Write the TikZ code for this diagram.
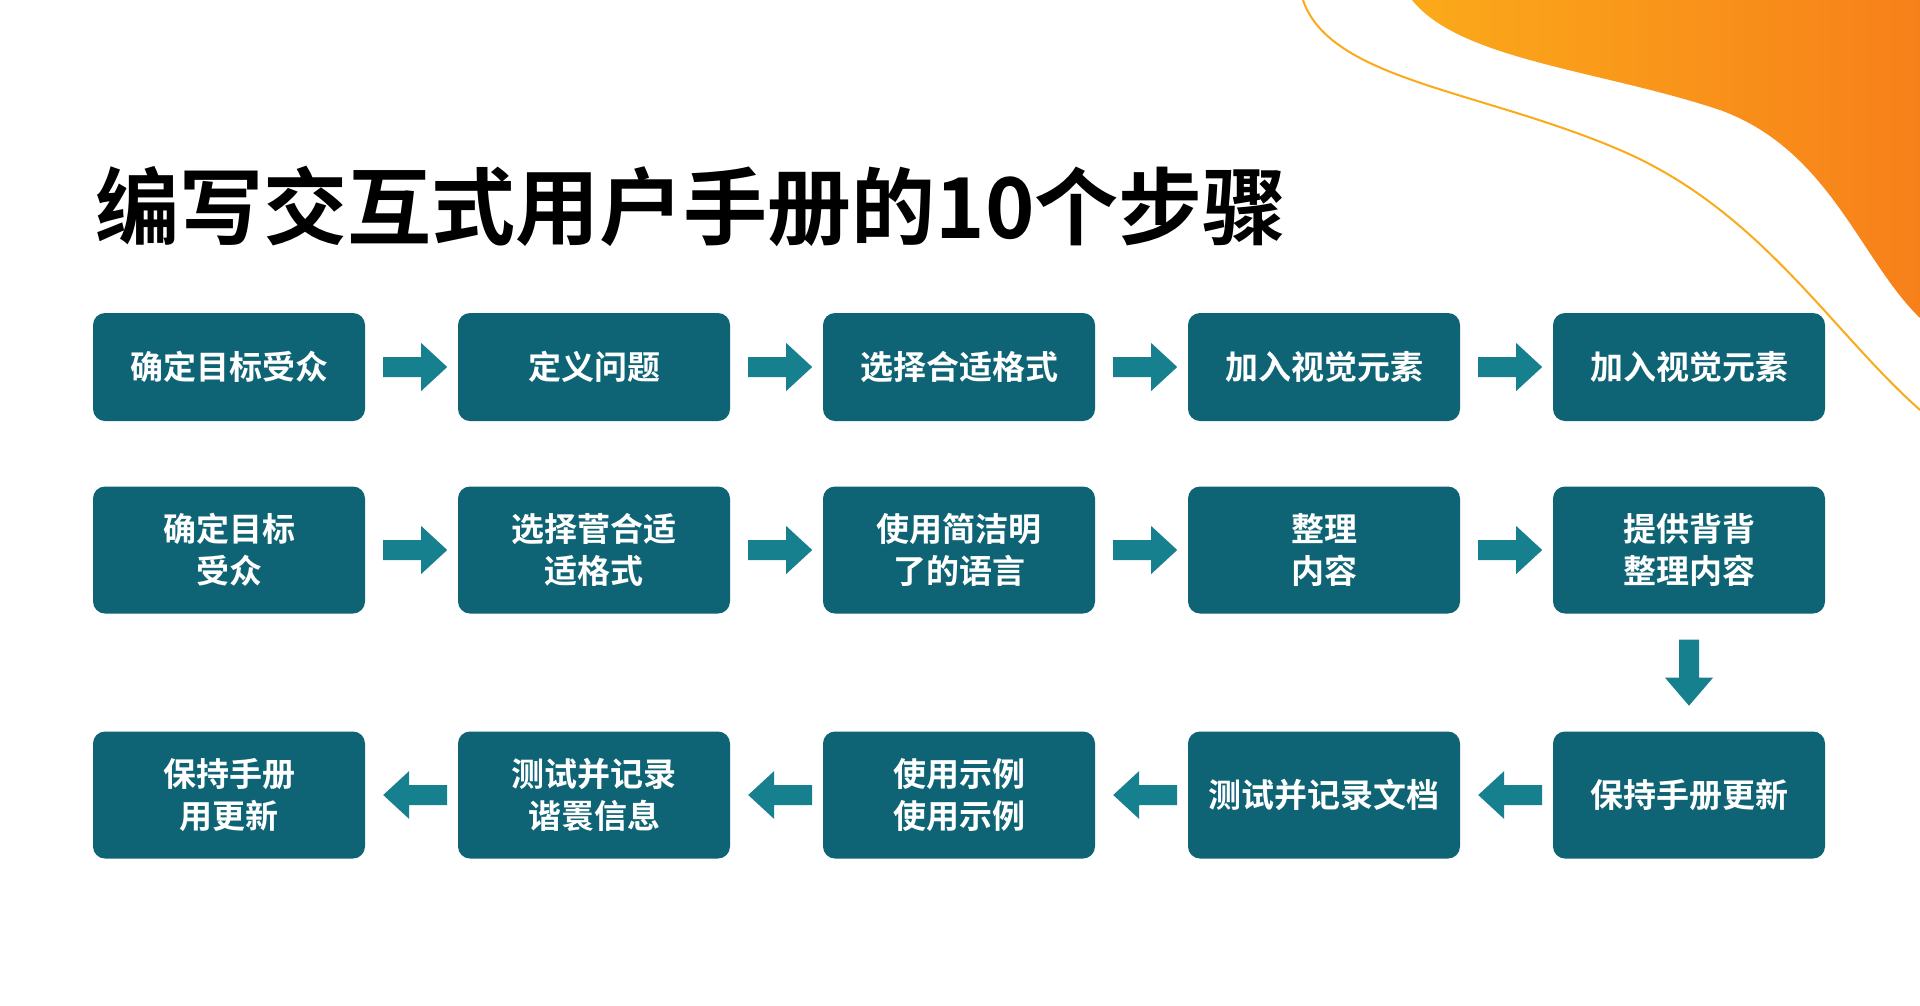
\documentclass[tikz,border=0pt]{standalone}
\usepackage{fontspec}
\newfontfamily\cjk{Noto Sans CJK SC Bold}
\definecolor{box}{HTML}{0E6474}
\definecolor{arr}{HTML}{17808F}
\definecolor{org1}{HTML}{FBAA1A}
\definecolor{org2}{HTML}{F7801A}
\begin{document}
\begin{tikzpicture}[x=1pt,y=-1pt,
 b/.style={draw=none,fill=box,rounded corners=12pt,minimum width=272pt,text width=260pt,align=center,text=white,font=\cjk\fontsize{33}{42}\selectfont,inner sep=0pt},
 r1/.style={b,minimum height=108pt},
 r2/.style={b,minimum height=127pt},
 ar/.style={fill=arr,draw=none}]
\useasboundingbox (0,0) rectangle (1920,1005);
\fill[white] (0,0) rectangle (1920,1005);
% orange blob
\shade[left color=org1,right color=org2,draw=none] (1412,0) .. controls (1460,60) and (1600,70) .. (1720,110) .. controls (1830,150) and (1860,260) .. (1920,318) -- (1920,0) -- cycle;
\draw[org1,line width=2pt] (1303,0) .. controls (1330,80) and (1480,90) .. (1620,150) .. controls (1760,210) and (1830,330) .. (1920,410);
\node[anchor=west,font=\cjk\fontsize{84}{90}\selectfont,text=black] (title) at (92,206) {编写交互式用户手册的10个步骤};
\def\xs{{229,594,959,1324,1689}}
\foreach \i/\t in {1/确定目标受众,2/定义问题,3/选择合适格式,4/加入视觉元素,5/加入视觉元素}{
 \pgfmathsetmacro\xx{\xs[\i-1]}
 \node[r1] (a\i) at (\xx,367) {\t};}
\foreach \i/\t in {1/{确定目标\\受众},2/{选择菅合适\\适格式},3/{使用简洁明\\了的语言},4/{整理\\内容},5/{提供背背\\整理内容}}{
 \pgfmathsetmacro\xx{\xs[\i-1]}
 \node[r2] (b\i) at (\xx,550) {\t};}
\foreach \i/\t in {1/{保持手册\\用更新},2/{测试并记录\\谐瞏信息},3/{使用示例\\使用示例},4/{测试并记录文档},5/{保持手册更新}}{
 \pgfmathsetmacro\xx{\xs[\i-1]}
 \node[r2] (c\i) at (\xx,795) {\t};}
% right arrows
\foreach \r/\y in {a/367,b/550}{
 \foreach \i [count=\j from 2] in {1,...,4}{
  \path (\r\i.east) ++(18,0) coordinate (s\r\i);
  \fill[ar] (s\r\i) ++(0,-10) -- ++(38,0) -- ++(0,-14) -- ++(26,24) -- ++(-26,24) -- ++(0,-14) -- ++(-38,0) -- cycle;
 }}
% left arrows
\foreach \i in {1,...,4}{
  \path (c\i.east) ++(82,0) coordinate (t\i);
  \fill[ar] (t\i) ++(0,-10) -- ++(-38,0) -- ++(0,-14) -- ++(-26,24) -- ++(26,24) -- ++(0,-14) -- ++(38,0) -- cycle;
}
% down arrow
\path (b5.south) ++(0,26) coordinate (d);
\fill[ar] (d) ++(-10,0) -- ++(0,38) -- ++(-14,0) -- ++(24,28) -- ++(24,-28) -- ++(-14,0) -- ++(0,-38) -- cycle;
\end{tikzpicture}
\end{document}
